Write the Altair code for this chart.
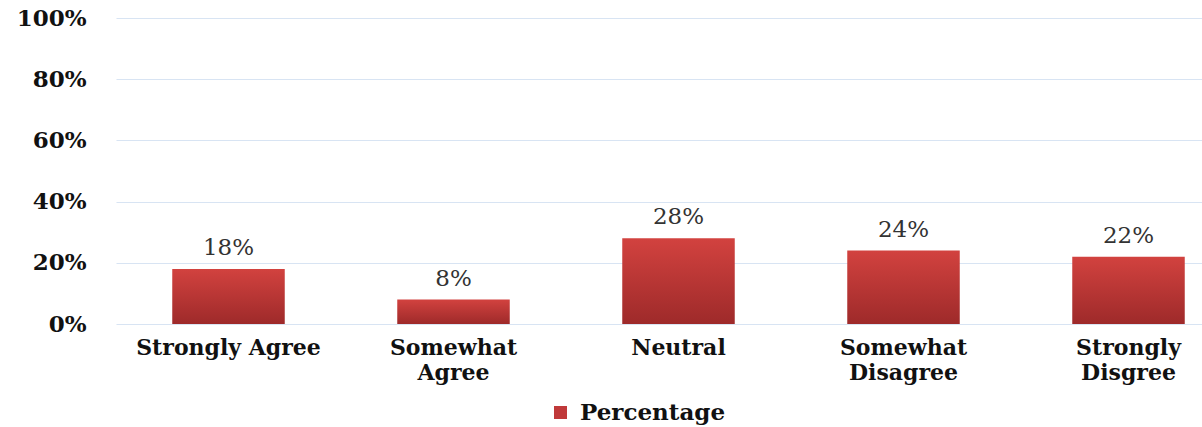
import altair as alt
import pandas as pd

categories = ["Strongly Agree", "Somewhat Agree", "Neutral", "Somewhat Disagree", "Strongly Disgree"]
values = [18, 8, 28, 24, 22]
series_name = "Percentage"
y_ticks = [0, 20, 40, 60, 80, 100]

df = pd.DataFrame({
    "category": categories,
    "value": values,
    "series": [series_name] * len(categories),
})
df["label"] = df["value"].astype(str) + "%"

FONT = "DejaVu Serif"

grad = alt.Gradient(
    gradient="linear",
    stops=[alt.GradientStop(color="#d2423f", offset=0),
           alt.GradientStop(color="#9e2a2a", offset=1)],
    x1=0, x2=0, y1=0, y2=1,
)

x_enc = alt.X(
    "category:N", sort=categories, title=None,
    scale=alt.Scale(range=[0, 1125], paddingInner=0.5, paddingOuter=0.25),
    axis=alt.Axis(
        labelAngle=0, domain=False, ticks=False, labelFont=FONT, labelFontWeight="bold",
        labelFontSize=22, labelColor="#111111", labelPadding=13, labelLineHeight=25,
        labelLimit=400,
        labelExpr="datum.label == 'Strongly Agree' ? datum.label : split(datum.label, ' ')",
        labelOverlap=False, labelBound=False, labelFlush=False,
    ),
)
y_enc = alt.Y(
    "value:Q", title=None,
    scale=alt.Scale(domain=[0, 100], nice=False),
    axis=alt.Axis(
        values=y_ticks, labelExpr="datum.value + '%'", domain=False, ticks=False,
        labelFont=FONT, labelFontWeight="bold", labelFontSize=23, labelColor="#111111",
        labelPadding=30, gridColor="#d8e4f3", gridWidth=1.2,
    ),
)

bars = alt.Chart(df).mark_bar(fill=grad).encode(
    x=x_enc, y=y_enc,
    color=alt.Color(
        "series:N", title=None,
        scale=alt.Scale(range=["#c0393a"]),
        legend=alt.Legend(
            orient="none", legendX=433, legendY=383, direction="horizontal",
            symbolType="square", symbolSize=170, symbolFillColor="#c43a3a", symbolStrokeWidth=0,
            labelFont=FONT, labelFontWeight="bold", labelFontSize=23, labelColor="#111111",
            labelOffset=8, labelLimit=400,
        ),
    ),
)

texts = alt.Chart(df).mark_text(
    font=FONT, fontSize=23, color="#333333", baseline="alphabetic", dy=-14,
).encode(x=alt.X("category:N", sort=categories), y="value:Q", text="label:N")

chart = (bars + texts).properties(
    width=1086, height=306,
    autosize=alt.AutoSizeParams(type="none"),
    padding={"left": 116, "top": 18, "right": 0, "bottom": 103},
).configure_view(stroke=None)

chart.save("out.html", embed_options={"renderer": "svg", "actions": False})
